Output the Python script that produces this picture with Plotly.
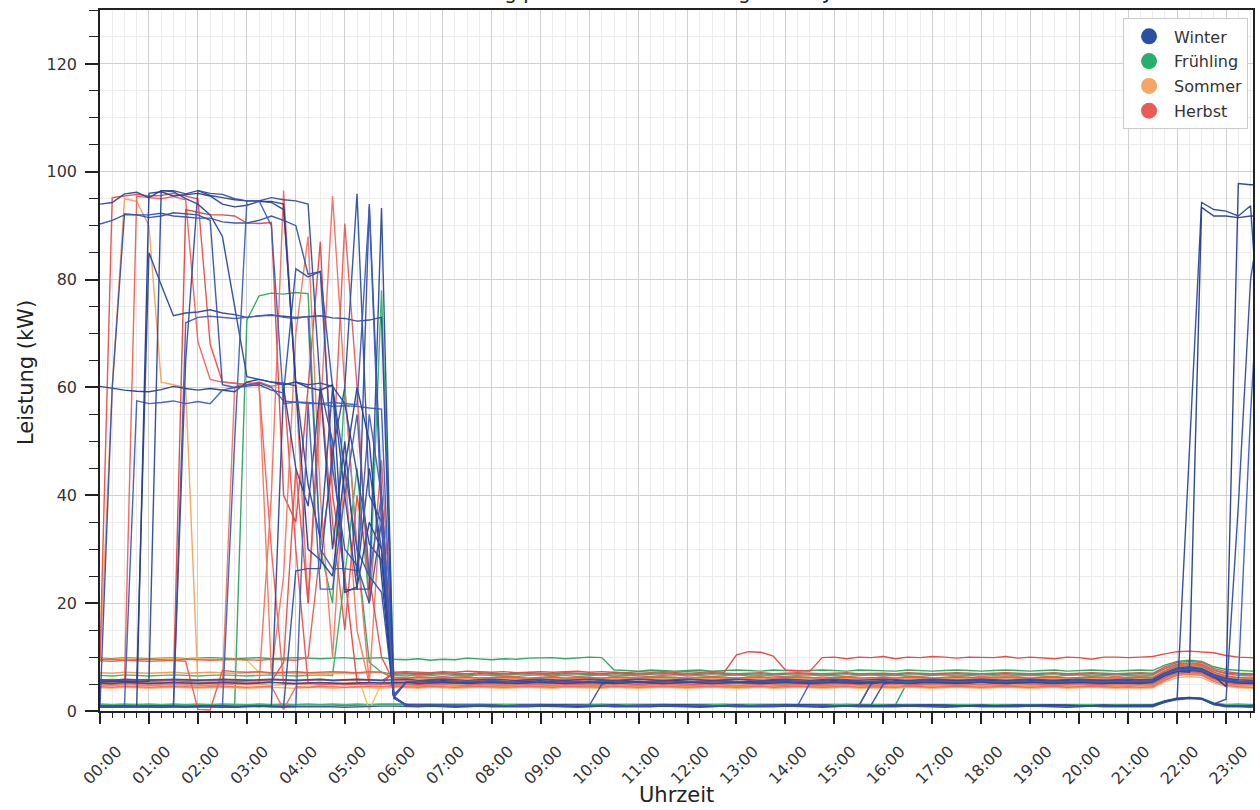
import sys
import plotly.graph_objects as go

# ---------------- categories / ticks ----------------
TIME_SLOTS_H = [i * 0.25 for i in range(96)]          # 15-minute slots, in hours
TICK_POS = list(range(24))
TICK_LABELS = ["00:00", "01:00", "02:00", "03:00", "04:00", "05:00", "06:00", "07:00",
               "08:00", "09:00", "10:00", "11:00", "12:00", "13:00", "14:00", "15:00",
               "16:00", "17:00", "18:00", "19:00", "20:00", "21:00", "22:00", "23:00"]
Y_TICKS = [0, 20, 40, 60, 80, 100, 120]

SEASONS = ["Winter", "Frühling", "Sommer", "Herbst"]
LEGEND_COLORS = ["#2a50a5", "#28af69", "#f5a564", "#eb5a55"]

# ---------------- Winter days (kW per 15 min) ----------------
W1 = [94.0, 94.3, 95.9, 96.2, 95.2, 96.5, 96.5, 95.9, 96.5, 95.6, 95.2, 94.8,
      94.6, 94.6, 94.3, 93.0, 61.0, 60.5, 60.8, 60.2, 57.0, 44.0, 31.0, 28.0,
      2.6, 1.1, 1.0, 0.9, 1.0, 1.1, 1.0, 0.9, 1.0, 1.0, 1.1, 1.0,
      0.9, 1.0, 1.0, 1.1, 1.0, 0.9, 1.0, 1.0, 1.1, 1.0, 0.9, 1.0,
      1.0, 1.1, 1.0, 0.9, 1.0, 1.0, 1.1, 1.0, 0.9, 1.0, 1.0, 1.1,
      1.0, 0.9, 1.0, 1.0, 1.1, 1.0, 0.9, 1.0, 1.0, 1.1, 1.0, 0.9,
      1.0, 1.0, 1.1, 1.0, 0.9, 1.0, 1.0, 1.1, 1.0, 0.9, 1.0, 1.0,
      1.0, 0.9, 1.0, 1.8, 2.3, 48.0, 94.3, 93.0, 92.7, 91.8, 93.7, 60.0]
W2 = [90.3, 91.0, 92.0, 92.0, 92.0, 92.3, 91.8, 91.6, 91.4, 91.4, 90.7, 90.5,
      90.5, 91.0, 91.8, 91.0, 90.0, 81.0, 81.5, 60.0, 45.0, 30.0, 25.0, 22.0,
      2.4, 1.2, 1.0, 1.1, 0.9, 1.0, 1.0, 1.1, 1.0, 0.9, 1.0, 1.1,
      1.0, 0.9, 1.0, 1.0, 1.1, 5.0, 5.4, 5.5, 5.3, 5.4, 5.5, 5.6,
      5.5, 5.4, 5.6, 5.5, 5.3, 5.4, 5.5, 5.6, 5.4, 5.5, 5.3, 5.4,
      5.5, 5.6, 5.4, 5.3, 5.5, 5.4, 5.6, 5.5, 5.4, 5.3, 5.5, 5.4,
      5.6, 5.5, 5.4, 5.5, 5.3, 5.4, 5.6, 5.5, 5.4, 5.5, 5.6, 5.4,
      5.5, 5.4, 5.5, 6.7, 7.7, 7.9, 7.7, 6.5, 5.8, 5.5, 5.4, 5.5]
W3 = [60.2, 59.8, 59.5, 59.3, 59.2, 59.6, 60.2, 59.8, 59.5, 59.8, 59.5, 59.2,
      61.0, 61.5, 61.0, 60.5, 61.0, 60.0, 59.5, 60.5, 22.0, 23.0, 35.0, 30.0,
      2.5, 1.0, 1.1, 1.0, 0.9, 1.0, 1.0, 1.1, 1.0, 0.9, 1.0, 1.0,
      1.1, 1.0, 0.9, 1.0, 1.0, 1.1, 1.0, 0.9, 1.0, 1.0, 1.1, 1.0,
      0.9, 1.0, 1.0, 1.1, 1.0, 0.9, 1.0, 1.0, 1.1, 1.0, 0.9, 1.0,
      1.0, 0.9, 1.0, 5.0, 5.5, 5.4, 5.6, 5.5, 5.4, 5.5, 5.6, 5.4,
      5.5, 5.4, 5.6, 5.5, 5.4, 5.3, 5.5, 5.6, 5.4, 5.5, 5.4, 5.5,
      5.5, 5.4, 5.5, 6.6, 7.4, 7.2, 93.4, 91.8, 91.8, 91.5, 91.8, 91.8]
W4 = [0.8, 0.8, 0.9, 57.5, 57.0, 57.2, 57.5, 57.0, 57.4, 57.0, 59.5, 60.0,
      60.5, 60.8, 60.0, 57.5, 57.2, 57.0, 57.0, 56.5, 56.6, 56.5, 56.2, 56.0,
      2.5, 1.1, 1.0, 1.0, 0.9, 1.0, 1.1, 1.0, 1.0, 0.9, 1.0, 1.0,
      1.0, 1.1, 1.0, 0.9, 1.0, 1.0, 1.1, 1.0, 0.9, 1.0, 1.0, 1.1,
      1.0, 1.0, 0.9, 1.0, 1.1, 1.0, 1.0, 0.9, 1.0, 1.0, 5.2, 5.5,
      5.4, 5.6, 5.5, 5.4, 5.3, 5.5, 5.6, 5.4, 5.5, 5.4, 5.6, 5.5,
      5.4, 5.5, 5.3, 5.4, 5.6, 5.5, 5.4, 5.5, 5.6, 5.4, 5.5, 5.3,
      5.4, 5.5, 5.4, 6.6, 7.5, 7.8, 7.6, 6.4, 5.7, 5.4, 5.5, 5.4]
W5 = [5.4, 5.5, 5.5, 5.5, 85.0, 79.0, 73.3, 73.8, 74.0, 74.4, 73.8, 73.5,
      73.0, 73.3, 73.4, 73.2, 73.0, 73.1, 73.3, 72.9, 72.8, 72.3, 72.5, 73.0,
      3.0, 5.3, 5.5, 5.6, 5.4, 5.5, 5.3, 5.4, 5.6, 5.5, 5.4, 5.5,
      5.6, 5.4, 5.5, 5.3, 5.5, 5.6, 5.4, 5.5, 5.5, 5.4, 5.6, 5.5,
      5.4, 5.5, 5.6, 5.4, 5.3, 5.5, 5.4, 5.6, 5.5, 5.4, 5.5, 5.6,
      5.4, 5.5, 5.3, 5.5, 5.6, 5.4, 5.5, 5.4, 5.6, 5.5, 5.3, 5.5,
      5.6, 5.4, 5.5, 5.4, 5.5, 5.6, 5.4, 5.3, 5.5, 5.6, 5.5, 5.4,
      5.6, 5.5, 5.6, 6.9, 7.6, 7.9, 7.5, 6.6, 5.8, 5.5, 5.4, 5.5]
W6 = [0.8, 0.9, 0.8, 0.8, 0.9, 0.8, 0.8, 72.0, 73.0, 73.2, 73.0, 72.8,
      73.0, 73.2, 73.5, 73.0, 72.8, 73.2, 30.0, 26.4, 26.4, 26.0, 55.0, 40.0,
      2.6, 1.0, 0.9, 1.0, 1.1, 1.0, 0.9, 1.0, 1.0, 1.1, 1.0, 0.9,
      1.0, 1.0, 1.1, 1.0, 0.9, 1.0, 1.0, 1.1, 1.0, 0.9, 1.0, 1.0,
      1.1, 1.0, 0.9, 1.0, 1.0, 1.1, 1.0, 0.9, 1.0, 1.0, 1.1, 1.0,
      0.9, 1.0, 1.0, 1.1, 1.0, 0.9, 1.0, 1.0, 1.1, 1.0, 0.9, 1.0,
      1.0, 1.1, 1.0, 0.9, 1.0, 1.0, 1.1, 1.0, 0.9, 1.0, 1.0, 1.1,
      1.0, 1.0, 0.9, 1.7, 2.2, 2.4, 2.3, 1.3, 0.9, 1.0, 0.9, 1.0]
W7 = [0.9, 0.8, 0.9, 0.8, 0.9, 0.8, 0.9, 0.8, 0.9, 0.8, 0.9, 0.8,
      0.9, 0.8, 0.9, 0.8, 26.0, 26.4, 26.4, 48.0, 60.0, 95.9, 40.0, 35.0,
      2.6, 1.0, 1.0, 1.1, 1.0, 0.9, 1.0, 1.0, 1.1, 1.0, 0.9, 1.0,
      1.0, 1.1, 1.0, 0.9, 1.0, 1.0, 1.1, 1.0, 0.9, 1.0, 1.0, 1.1,
      1.0, 0.9, 1.0, 1.0, 1.1, 1.0, 0.9, 1.0, 1.0, 1.1, 1.0, 0.9,
      1.0, 1.0, 0.9, 1.1, 5.0, 5.5, 5.4, 5.6, 5.5, 5.4, 5.5, 5.6,
      5.5, 5.4, 5.5, 5.6, 5.4, 5.5, 5.3, 5.4, 5.5, 5.6, 5.4, 5.5,
      5.4, 5.5, 5.5, 6.8, 7.6, 7.8, 7.6, 6.5, 5.7, 5.5, 5.4, 5.5]
W8 = [0.8, 0.8, 0.8, 0.9, 0.8, 0.8, 0.9, 65.0, 96.5, 96.0, 95.8, 95.0,
      94.6, 94.6, 95.2, 94.8, 94.6, 94.0, 60.0, 50.0, 22.5, 22.6, 94.0, 40.0,
      2.5, 1.1, 1.0, 0.9, 1.0, 1.0, 1.1, 1.0, 0.9, 1.0, 1.0, 1.1,
      1.0, 0.9, 1.0, 1.0, 1.1, 1.0, 0.9, 1.0, 1.0, 1.1, 1.0, 0.9,
      1.0, 1.0, 1.1, 1.0, 0.9, 1.0, 1.0, 1.1, 1.0, 0.9, 1.0, 1.0,
      1.1, 1.0, 0.9, 1.0, 1.0, 1.1, 1.0, 0.9, 1.0, 1.0, 1.1, 1.0,
      0.9, 1.0, 1.0, 1.1, 1.0, 0.9, 1.0, 1.0, 1.1, 1.0, 0.9, 1.0,
      1.0, 0.9, 1.0, 1.8, 2.3, 2.4, 2.3, 1.3, 2.2, 38.0, 80.0, 95.0]
W9 = [5.5, 5.6, 5.5, 5.4, 5.5, 96.5, 96.3, 95.0, 94.0, 92.0, 88.0, 75.0,
      62.0, 61.5, 61.0, 60.8, 60.3, 42.0, 32.0, 60.0, 40.0, 22.6, 22.6, 93.3,
      2.4, 1.2, 1.0, 1.0, 1.1, 1.0, 0.9, 1.0, 1.0, 1.1, 1.0, 0.9,
      1.0, 1.0, 1.1, 1.0, 0.9, 1.0, 1.0, 1.1, 1.0, 0.9, 1.0, 1.0,
      1.1, 1.0, 0.9, 1.0, 1.0, 1.1, 1.0, 0.9, 1.0, 1.0, 1.1, 1.0,
      0.9, 1.0, 1.0, 1.1, 1.0, 0.9, 1.0, 1.0, 1.1, 1.0, 0.9, 1.0,
      1.0, 1.1, 1.0, 0.9, 1.0, 1.0, 1.1, 1.0, 0.9, 1.0, 1.0, 1.1,
      1.0, 1.0, 1.1, 1.8, 2.3, 2.5, 2.3, 1.4, 1.0, 0.9, 1.0, 1.0]
W10 = [0.8, 60.0, 92.2, 92.0, 91.5, 91.8, 92.4, 92.2, 92.0, 91.0, 60.5, 60.0,
       60.2, 60.5, 59.5, 59.0, 82.0, 80.5, 81.5, 45.0, 30.0, 27.0, 20.0, 35.0,
       2.6, 1.0, 1.1, 1.0, 0.9, 1.0, 1.0, 1.1, 1.0, 0.9, 1.0, 1.0,
       1.1, 1.0, 0.9, 1.0, 1.0, 1.1, 1.0, 0.9, 1.0, 1.0, 1.1, 1.0,
       0.9, 1.0, 1.0, 1.1, 1.0, 0.9, 1.0, 1.0, 1.1, 1.0, 0.9, 1.0,
       1.0, 1.1, 1.0, 0.9, 1.0, 1.0, 1.1, 1.0, 0.9, 1.0, 1.0, 1.1,
       1.0, 0.9, 1.0, 1.0, 1.1, 1.0, 0.9, 1.0, 1.0, 1.1, 1.0, 0.9,
       1.0, 1.0, 0.9, 1.7, 2.2, 2.4, 2.2, 1.2, 0.9, 1.0, 1.0, 0.9]
W11 = [0.8, 0.8, 0.8, 0.8, 96.0, 96.3, 95.5, 95.8, 96.0, 95.5, 94.0, 93.5,
       93.8, 94.5, 94.5, 94.0, 60.0, 30.0, 28.0, 25.0, 45.0, 60.0, 50.0, 25.0,
       2.5, 5.3, 5.5, 5.4, 5.6, 5.5, 5.4, 5.5, 5.3, 5.4, 5.6, 5.5,
       5.4, 5.5, 5.6, 5.4, 5.5, 5.3, 5.5, 5.6, 5.4, 5.5, 5.4, 5.6,
       5.5, 5.4, 5.5, 5.6, 5.4, 5.5, 5.3, 5.4, 5.6, 5.5, 5.4, 5.5,
       5.6, 5.4, 5.5, 5.5, 5.4, 5.6, 5.5, 5.3, 5.4, 5.5, 5.6, 5.4,
       5.5, 5.6, 5.4, 5.5, 5.5, 5.4, 5.6, 5.5, 5.3, 5.4, 5.5, 5.6,
       5.5, 5.4, 5.5, 6.7, 7.7, 7.9, 7.7, 6.5, 4.5, 97.8, 97.6, 97.5]
W12 = [0.8, 0.9, 0.8, 0.8, 0.8, 0.9, 0.8, 0.8, 0.9, 0.8, 0.8, 50.0,
       94.6, 94.6, 90.0, 57.0, 57.3, 57.2, 57.0, 57.2, 57.0, 56.8, 93.5, 35.0,
       2.6, 5.4, 5.5, 5.6, 5.4, 5.5, 5.5, 5.4, 5.6, 5.5, 5.4, 5.3,
       5.5, 5.6, 5.4, 5.5, 5.4, 5.6, 5.5, 5.4, 5.3, 5.5, 5.6, 5.4,
       5.5, 5.5, 5.4, 5.6, 5.5, 5.3, 5.4, 5.5, 5.6, 5.4, 5.5, 5.5,
       5.4, 5.6, 5.5, 5.4, 5.5, 5.3, 5.5, 5.6, 5.4, 5.5, 5.5, 5.4,
       5.6, 5.5, 5.4, 5.5, 5.3, 5.5, 5.6, 5.4, 5.5, 5.5, 5.4, 5.6,
       5.5, 5.6, 5.5, 6.8, 7.6, 7.8, 7.6, 6.6, 5.9, 5.8, 55.0, 95.0]
W13 = [0.9, 1.0, 0.9, 0.8, 0.9, 1.0, 0.9, 0.8, 0.9, 1.0, 0.9, 0.8,
       0.9, 1.0, 0.9, 60.0, 45.0, 38.0, 60.0, 30.0, 50.0, 25.0, 45.0, 30.0,
       2.7, 1.1, 1.0, 1.0, 1.1, 1.0, 0.9, 1.0, 1.1, 1.0, 1.0, 0.9,
       1.0, 1.1, 1.0, 1.0, 0.9, 1.0, 1.1, 1.0, 1.0, 0.9, 1.0, 1.1,
       1.0, 1.0, 0.9, 1.0, 1.1, 1.0, 1.0, 0.9, 1.0, 1.1, 1.0, 1.0,
       0.9, 1.0, 1.1, 1.0, 1.0, 0.9, 1.0, 1.1, 1.0, 1.0, 0.9, 1.0,
       1.1, 1.0, 1.0, 0.9, 1.0, 1.1, 1.0, 1.0, 0.9, 1.0, 1.1, 1.0,
       1.0, 1.1, 1.0, 1.7, 2.3, 2.4, 2.3, 1.3, 1.0, 0.9, 1.0, 1.1]
W14 = [0.8, 0.9, 0.8, 0.7, 0.8, 0.9, 0.8, 0.7, 0.8, 0.9, 0.8, 0.7,
       0.8, 0.9, 0.8, 0.9, 0.8, 57.0, 22.6, 22.6, 40.0, 55.0, 25.0, 40.0,
       2.5, 1.0, 1.1, 0.9, 1.0, 1.0, 1.1, 1.0, 0.9, 1.0, 1.0, 1.1,
       1.0, 0.9, 1.0, 1.1, 1.0, 1.0, 0.9, 1.0, 1.1, 1.0, 1.0, 0.9,
       1.0, 1.1, 1.0, 1.0, 0.9, 1.0, 1.1, 1.0, 1.0, 0.9, 1.0, 1.1,
       1.0, 1.0, 0.9, 5.1, 5.4, 5.5, 5.3, 5.4, 5.5, 5.6, 5.4, 5.5,
       5.3, 5.4, 5.5, 5.6, 5.4, 5.5, 5.3, 5.4, 5.5, 5.6, 5.4, 5.5,
       5.4, 5.5, 5.4, 6.7, 7.5, 7.7, 7.5, 6.4, 5.7, 5.4, 5.5, 5.4]
WB1 = [5.8, 5.7, 5.9, 5.8, 5.7, 5.8, 5.9, 5.8, 5.7, 5.8, 5.9, 5.8,
       5.7, 5.8, 5.9, 5.8, 5.7, 5.8, 5.9, 5.7, 5.8, 5.9, 5.8, 5.7,
       5.8, 5.9, 5.7, 5.8, 5.9, 5.8, 5.7, 5.8, 5.9, 5.8, 5.7, 5.8,
       5.9, 5.8, 5.7, 5.8, 5.9, 5.8, 5.7, 5.8, 5.9, 5.8, 5.7, 5.8,
       5.9, 5.8, 5.7, 5.8, 5.9, 5.8, 5.7, 5.8, 5.9, 5.8, 5.7, 5.8,
       5.9, 5.8, 5.7, 5.8, 5.9, 5.8, 5.7, 5.8, 5.9, 5.8, 5.7, 5.8,
       5.9, 5.8, 5.7, 5.8, 5.9, 5.8, 5.7, 5.8, 5.9, 5.8, 5.7, 5.8,
       5.9, 5.8, 5.9, 7.1, 8.0, 8.2, 7.9, 6.8, 6.1, 5.8, 5.7, 5.8]
WB2 = [0.8, 0.7, 0.8, 0.9, 0.8, 0.7, 0.8, 0.8, 0.9, 0.8, 0.7, 0.8,
       0.8, 0.9, 0.8, 0.7, 0.8, 0.8, 0.9, 0.8, 0.7, 0.8, 0.8, 0.9,
       0.9, 0.8, 0.8, 0.9, 0.8, 0.7, 0.8, 0.9, 0.8, 0.8, 0.7, 0.8,
       0.9, 0.8, 0.8, 0.7, 0.8, 0.9, 0.8, 0.8, 0.7, 0.8, 0.9, 0.8,
       0.8, 0.7, 0.8, 0.9, 0.8, 0.8, 0.7, 0.8, 0.9, 0.8, 0.8, 0.7,
       0.8, 0.9, 0.8, 0.8, 0.7, 0.8, 0.9, 0.8, 0.8, 0.7, 0.8, 0.9,
       0.8, 0.8, 0.7, 0.8, 0.9, 0.8, 0.8, 0.7, 0.8, 0.9, 0.8, 0.8,
       0.8, 0.7, 0.8, 1.6, 2.1, 2.3, 2.2, 1.2, 0.8, 0.8, 0.7, 0.8]
WB3 = [5.2, 5.1, 5.3, 5.2, 5.1, 5.2, 5.3, 5.2, 5.1, 5.2, 5.3, 5.2,
       5.1, 5.2, 5.3, 5.2, 5.1, 5.2, 5.3, 5.2, 5.1, 5.2, 5.3, 5.2,
       5.2, 5.3, 5.1, 5.2, 5.3, 5.2, 5.1, 5.2, 5.3, 5.2, 5.1, 5.2,
       5.3, 5.2, 5.1, 5.2, 5.3, 5.2, 5.1, 5.2, 5.3, 5.2, 5.1, 5.2,
       5.3, 5.2, 5.1, 5.2, 5.3, 5.2, 5.1, 5.2, 5.3, 5.2, 5.1, 5.2,
       5.3, 5.2, 5.1, 5.2, 5.3, 5.2, 5.1, 5.2, 5.3, 5.2, 5.1, 5.2,
       5.3, 5.2, 5.1, 5.2, 5.3, 5.2, 5.1, 5.2, 5.3, 5.2, 5.1, 5.2,
       5.2, 5.1, 5.3, 6.5, 7.3, 7.5, 7.3, 6.2, 5.5, 5.2, 5.1, 5.2]

# ---------------- Herbst days ----------------
H1 = [9.8, 95.2, 95.5, 95.8, 95.5, 95.6, 96.0, 95.5, 95.0, 68.0, 61.0, 60.8,
      60.5, 61.0, 60.2, 60.8, 30.0, 5.2, 5.0, 5.1, 4.9, 5.0, 5.1, 5.0,
      5.1, 5.0, 4.9, 5.1, 5.0, 5.2, 5.0, 4.9, 5.1, 5.0, 5.1, 4.9,
      5.0, 5.1, 5.0, 4.9, 5.1, 5.0, 5.2, 5.0, 4.9, 5.1, 5.0, 5.1,
      5.0, 4.9, 5.1, 5.0, 5.2, 5.0, 4.9, 5.1, 5.0, 5.1, 4.9, 5.0,
      5.1, 5.0, 4.9, 5.1, 5.0, 5.2, 5.0, 4.9, 5.1, 5.0, 5.1, 5.0,
      4.9, 5.1, 5.0, 5.2, 5.0, 4.9, 5.1, 5.0, 5.1, 4.9, 5.0, 5.1,
      5.0, 5.1, 5.0, 6.2, 7.1, 7.3, 7.1, 6.0, 5.3, 5.0, 5.1, 5.0]
H2 = [5.0, 5.1, 5.0, 95.5, 95.2, 95.0, 95.4, 94.8, 68.5, 61.5, 61.0, 60.8,
      60.5, 60.3, 30.0, 5.1, 5.0, 5.2, 5.0, 4.9, 5.0, 5.1, 5.0, 5.2,
      5.3, 5.2, 5.4, 5.3, 5.2, 5.3, 5.1, 5.3, 5.2, 5.4, 5.3, 5.2,
      5.3, 5.2, 5.4, 5.3, 5.1, 5.2, 5.3, 5.4, 5.2, 5.3, 5.2, 5.3,
      5.4, 5.2, 5.3, 5.2, 5.3, 5.1, 5.3, 5.2, 5.4, 5.3, 5.2, 5.3,
      5.2, 5.3, 5.4, 5.2, 5.3, 5.2, 5.1, 5.3, 5.2, 5.4, 5.3, 5.2,
      5.3, 5.2, 5.3, 5.4, 5.2, 5.3, 5.1, 5.2, 5.3, 5.2, 5.4, 5.3,
      5.2, 5.3, 5.2, 6.6, 7.6, 7.8, 7.5, 6.3, 5.6, 5.3, 5.2, 5.3]
H3 = [5.1, 5.0, 5.2, 5.0, 5.1, 5.0, 5.1, 93.0, 92.5, 92.0, 92.0, 91.8,
      90.5, 90.4, 90.6, 40.0, 35.0, 60.0, 87.0, 40.0, 25.0, 5.3, 5.2, 5.0,
      7.2, 7.3, 7.2, 7.1, 7.3, 7.2, 7.4, 7.3, 7.2, 7.3, 7.1, 7.2,
      7.3, 7.2, 7.3, 7.4, 7.2, 7.3, 7.2, 7.1, 7.3, 7.2, 7.3, 7.2,
      7.3, 7.2, 7.3, 7.2, 10.4, 11.0, 10.9, 10.2, 7.6, 7.5, 7.4, 9.9,
      10.0, 9.7, 10.0, 9.9, 10.1, 9.7, 10.0, 9.9, 10.1, 10.0, 9.8, 10.0,
      10.0, 9.9, 10.1, 9.8, 10.0, 9.9, 9.7, 10.0, 9.9, 9.6, 10.0, 10.0,
      9.9, 10.0, 10.1, 10.6, 11.0, 11.1, 11.0, 10.8, 10.3, 10.0, 9.9, 9.8]
H4 = [5.2, 5.0, 5.1, 5.2, 5.0, 5.1, 5.2, 5.0, 5.1, 5.2, 5.0, 5.1,
      5.0, 5.2, 40.0, 96.5, 60.0, 20.0, 55.0, 95.5, 60.0, 30.0, 5.2, 5.1,
      4.8, 4.9, 4.7, 4.8, 4.9, 4.8, 4.7, 4.9, 4.8, 4.7, 4.8, 4.9,
      4.8, 4.7, 4.9, 4.8, 4.8, 4.7, 4.9, 4.8, 4.7, 4.8, 4.9, 4.8,
      4.7, 4.8, 4.9, 4.8, 4.7, 4.8, 4.9, 4.8, 4.7, 4.9, 4.8, 4.7,
      4.8, 4.9, 4.8, 4.7, 4.8, 4.9, 4.7, 4.8, 4.9, 4.8, 4.7, 4.8,
      4.9, 4.8, 4.7, 4.8, 4.9, 4.8, 4.7, 4.8, 4.9, 4.8, 4.7, 4.8,
      4.8, 4.9, 4.8, 6.0, 6.9, 7.1, 6.9, 5.8, 5.1, 4.8, 4.9, 4.8]
H5 = [9.5, 9.6, 9.4, 9.5, 9.6, 9.5, 9.4, 9.6, 9.5, 9.4, 9.5, 9.6,
      9.5, 9.4, 9.6, 9.5, 9.4, 10.0, 30.0, 45.0, 90.4, 60.0, 20.0, 46.5,
      6.6, 6.5, 6.7, 6.6, 6.4, 6.6, 6.5, 6.7, 6.6, 6.5, 6.4, 6.6,
      6.7, 6.5, 6.6, 6.4, 6.6, 6.7, 6.5, 6.6, 6.5, 6.4, 6.6, 6.7,
      6.5, 6.6, 6.4, 6.6, 6.7, 6.5, 6.6, 6.5, 6.4, 6.6, 6.7, 6.5,
      6.6, 6.4, 6.6, 6.7, 6.5, 6.6, 6.5, 6.4, 6.6, 6.7, 6.5, 6.6,
      6.4, 6.6, 6.7, 6.5, 6.6, 6.5, 6.4, 6.6, 6.7, 6.5, 6.6, 6.4,
      6.6, 6.5, 6.6, 7.8, 8.6, 8.8, 8.6, 7.5, 6.9, 6.6, 6.5, 6.6]
H6 = [4.8, 4.7, 4.9, 4.8, 4.7, 4.8, 4.9, 4.8, 4.7, 4.8, 4.9, 60.0,
      61.0, 60.5, 7.0, 25.0, 70.0, 88.0, 40.0, 10.0, 45.0, 15.0, 5.0, 40.0,
      5.6, 5.7, 5.5, 5.6, 5.7, 5.6, 5.5, 5.7, 5.6, 5.5, 5.6, 5.7,
      5.6, 5.5, 5.7, 5.6, 5.6, 5.5, 5.7, 5.6, 5.5, 5.6, 5.7, 5.6,
      5.5, 5.6, 5.7, 5.6, 5.5, 5.6, 5.7, 5.5, 5.6, 5.7, 5.6, 5.5,
      5.6, 5.7, 5.5, 5.6, 5.6, 5.5, 5.7, 5.6, 5.5, 5.6, 5.7, 5.6,
      5.5, 5.6, 5.7, 5.6, 5.5, 5.6, 5.7, 5.5, 5.6, 5.7, 5.6, 5.5,
      5.6, 5.7, 5.6, 6.9, 7.8, 8.0, 7.8, 6.7, 6.0, 5.7, 5.6, 5.7]
H7 = [9.3, 9.2, 9.4, 9.3, 9.2, 9.3, 9.4, 9.2, 0.3, 0.2, 7.5, 7.3,
      7.2, 7.3, 7.1, 7.2, 7.3, 7.1, 7.2, 7.3, 7.2, 7.1, 7.3, 7.2,
      6.2, 6.1, 6.3, 6.2, 6.1, 6.2, 6.3, 6.1, 6.2, 6.3, 6.2, 6.1,
      6.2, 6.3, 6.1, 6.2, 6.2, 6.1, 6.3, 6.2, 6.1, 6.2, 6.3, 6.2,
      6.1, 6.2, 6.3, 6.2, 6.1, 6.2, 6.3, 6.1, 6.2, 6.3, 6.2, 6.1,
      6.2, 6.3, 6.1, 6.2, 6.2, 6.1, 6.3, 6.2, 6.1, 6.2, 6.3, 6.2,
      6.1, 6.2, 6.3, 6.2, 6.1, 6.2, 6.3, 6.1, 6.2, 6.3, 6.2, 6.1,
      6.2, 6.3, 6.2, 7.5, 8.4, 8.6, 8.4, 7.2, 6.5, 6.2, 6.1, 6.2]
H8 = [4.5, 4.4, 4.6, 4.5, 4.4, 4.5, 4.6, 4.5, 4.4, 4.5, 4.6, 4.5,
      4.4, 4.5, 4.6, 0.3, 4.5, 4.4, 4.6, 4.5, 4.4, 4.5, 4.6, 4.5,
      4.6, 4.5, 4.4, 4.6, 4.5, 4.4, 4.5, 4.6, 4.5, 4.4, 4.5, 4.6,
      4.5, 4.4, 4.6, 4.5, 4.5, 4.4, 4.6, 4.5, 4.4, 4.5, 4.6, 4.5,
      4.4, 4.5, 4.6, 4.5, 4.4, 4.5, 4.6, 4.4, 4.5, 4.6, 4.5, 4.4,
      4.5, 4.6, 4.4, 4.5, 4.5, 4.4, 4.6, 4.5, 4.4, 4.5, 4.6, 4.5,
      4.4, 4.5, 4.6, 4.5, 4.4, 4.5, 4.6, 4.4, 4.5, 4.6, 4.5, 4.4,
      4.5, 4.4, 4.5, 5.7, 6.6, 6.8, 6.6, 5.5, 4.8, 4.5, 4.4, 4.5]
H9 = [5.7, 5.8, 5.6, 5.7, 5.8, 5.7, 5.6, 5.8, 5.7, 5.6, 5.7, 5.8,
      5.7, 5.6, 5.8, 5.7, 5.6, 5.7, 5.8, 5.6, 5.7, 5.8, 5.7, 5.6,
      7.0, 7.1, 6.9, 7.0, 7.1, 7.0, 6.9, 7.1, 7.0, 6.9, 7.0, 7.1,
      7.0, 6.9, 7.1, 7.0, 7.0, 6.9, 7.1, 7.0, 6.9, 7.0, 7.1, 7.0,
      6.9, 7.0, 7.1, 7.0, 6.9, 7.0, 7.1, 6.9, 7.0, 7.1, 7.0, 6.9,
      7.0, 7.1, 6.9, 7.0, 7.0, 6.9, 7.1, 7.0, 6.9, 7.0, 7.1, 7.0,
      6.9, 7.0, 7.1, 7.0, 6.9, 7.0, 7.1, 6.9, 7.0, 7.1, 7.0, 6.9,
      7.0, 7.1, 7.0, 8.2, 9.0, 9.2, 9.0, 7.9, 7.3, 7.0, 6.9, 7.0]
H10 = [5.4, 5.5, 5.3, 5.4, 5.5, 5.4, 5.3, 5.5, 5.4, 5.3, 5.4, 5.5,
       5.4, 5.3, 5.5, 9.0, 45.0, 20.0, 60.0, 35.0, 15.0, 40.0, 25.0, 10.0,
       5.4, 5.3, 5.5, 5.4, 5.3, 5.4, 5.5, 5.3, 5.4, 5.5, 5.4, 5.3,
       5.4, 5.5, 5.3, 5.4, 5.4, 5.3, 5.5, 5.4, 5.3, 5.4, 5.5, 5.4,
       5.3, 5.4, 5.5, 5.4, 5.3, 5.4, 5.5, 5.3, 5.4, 5.5, 5.4, 5.3,
       5.4, 5.5, 5.3, 5.4, 5.4, 5.3, 5.5, 5.4, 5.3, 5.4, 5.5, 5.4,
       5.3, 5.4, 5.5, 5.4, 5.3, 5.4, 5.5, 5.3, 5.4, 5.5, 5.4, 5.3,
       5.4, 5.5, 5.4, 6.6, 7.5, 7.7, 7.5, 6.4, 5.7, 5.4, 5.3, 5.4]

# ---------------- Sommer days ----------------
S1 = [9.3, 60.0, 95.0, 94.5, 90.0, 61.0, 60.5, 60.0, 5.0, 4.8, 4.9, 5.0,
      4.9, 5.0, 4.8, 4.9, 5.0, 4.9, 4.8, 5.0, 4.9, 5.0, 4.8, 4.9,
      5.0, 4.9, 5.1, 5.0, 4.9, 5.0, 5.1, 4.9, 5.0, 5.1, 5.0, 4.9,
      5.0, 5.1, 4.9, 5.0, 5.0, 4.9, 5.1, 5.0, 4.9, 5.0, 5.1, 5.0,
      4.9, 5.0, 5.1, 5.0, 4.9, 5.0, 5.1, 4.9, 5.0, 5.1, 5.0, 4.9,
      5.0, 5.1, 4.9, 5.0, 5.0, 4.9, 5.1, 5.0, 4.9, 5.0, 5.1, 5.0,
      4.9, 5.0, 5.1, 5.0, 4.9, 5.0, 5.1, 4.9, 5.0, 5.1, 5.0, 4.9,
      5.0, 4.9, 5.0, 6.2, 7.0, 7.2, 7.0, 5.9, 5.3, 5.0, 4.9, 5.0]
S2 = [9.7, 9.6, 9.8, 9.7, 9.6, 9.7, 9.8, 9.6, 9.7, 9.6, 9.5, 9.6,
      9.4, 7.2, 7.0, 7.1, 6.9, 7.0, 6.8, 7.0, 6.9, 6.9, 0.2, 5.1,
      4.6, 4.7, 4.5, 4.6, 4.7, 4.6, 4.5, 4.7, 4.6, 4.5, 4.6, 4.7,
      4.6, 4.5, 4.7, 4.6, 4.6, 4.5, 4.7, 4.6, 4.5, 4.6, 4.7, 4.6,
      4.5, 4.6, 4.7, 4.6, 4.5, 4.6, 4.7, 4.5, 4.6, 4.7, 4.6, 4.5,
      4.6, 4.7, 4.5, 4.6, 4.6, 4.5, 4.7, 4.6, 4.5, 4.6, 4.7, 4.6,
      4.5, 4.6, 4.7, 4.6, 4.5, 4.6, 4.7, 4.5, 4.6, 4.7, 4.6, 4.5,
      4.6, 4.7, 4.6, 5.8, 6.7, 6.9, 6.7, 5.6, 4.9, 4.6, 4.7, 4.6]
S3 = [4.3, 4.2, 4.4, 4.3, 4.2, 4.3, 4.4, 4.3, 4.2, 4.3, 4.4, 4.3,
      4.2, 4.3, 4.4, 4.3, 4.2, 4.3, 4.4, 4.2, 4.3, 4.4, 4.3, 4.2,
      4.4, 4.3, 4.2, 4.4, 4.3, 4.2, 4.3, 4.4, 4.3, 4.2, 4.3, 4.4,
      4.3, 4.2, 4.4, 4.3, 4.3, 4.2, 4.4, 4.3, 4.2, 4.3, 4.4, 4.3,
      4.2, 4.3, 4.4, 4.3, 4.2, 4.3, 4.4, 4.2, 4.3, 4.4, 4.3, 4.2,
      4.3, 4.4, 4.2, 4.3, 4.3, 4.2, 4.4, 4.3, 4.2, 4.3, 4.4, 4.3,
      4.2, 4.3, 4.4, 4.3, 4.2, 4.3, 4.4, 4.2, 4.3, 4.4, 4.3, 4.2,
      4.3, 4.2, 4.3, 5.4, 6.2, 6.4, 6.2, 5.2, 4.6, 4.3, 4.2, 4.3]
S4 = [7.1, 7.0, 7.2, 7.1, 7.0, 7.1, 7.2, 7.0, 7.1, 7.2, 7.1, 7.0,
      7.1, 7.2, 7.0, 7.1, 7.2, 7.1, 7.0, 7.1, 7.2, 7.0, 7.1, 7.2,
      6.0, 5.9, 6.1, 6.0, 5.9, 6.0, 6.1, 5.9, 6.0, 6.1, 6.0, 5.9,
      6.0, 6.1, 5.9, 6.0, 6.0, 5.9, 6.1, 6.0, 5.9, 6.0, 6.1, 6.0,
      5.9, 6.0, 6.1, 6.0, 5.9, 6.0, 6.1, 5.9, 6.0, 6.1, 6.0, 5.9,
      6.0, 6.1, 5.9, 6.0, 6.0, 5.9, 6.1, 6.0, 5.9, 6.0, 6.1, 6.0,
      5.9, 6.0, 6.1, 6.0, 5.9, 6.0, 6.1, 5.9, 6.0, 6.1, 6.0, 5.9,
      6.0, 6.1, 6.0, 7.2, 8.1, 8.3, 8.1, 7.0, 6.3, 6.0, 5.9, 6.0]
S5 = [5.2, 5.3, 5.1, 5.2, 5.3, 5.2, 5.1, 5.3, 5.2, 5.1, 5.2, 5.3,
      5.2, 5.1, 5.3, 5.2, 5.1, 5.2, 5.3, 5.1, 5.2, 5.3, 5.2, 5.1,
      4.9, 5.0, 4.8, 4.9, 5.0, 4.9, 4.8, 5.0, 4.9, 4.8, 4.9, 5.0,
      4.9, 4.8, 5.0, 4.9, 4.9, 4.8, 5.0, 4.9, 4.8, 4.9, 5.0, 4.9,
      4.8, 4.9, 5.0, 4.9, 4.8, 4.9, 5.0, 4.8, 4.9, 5.0, 4.9, 4.8,
      4.9, 5.0, 4.8, 4.9, 4.9, 4.8, 5.0, 4.9, 4.8, 4.9, 5.0, 4.9,
      4.8, 4.9, 5.0, 4.9, 4.8, 4.9, 5.0, 4.8, 4.9, 5.0, 4.9, 4.8,
      4.9, 5.0, 4.9, 6.1, 7.0, 7.2, 7.0, 5.9, 5.2, 4.9, 4.8, 4.9]
S6 = [5.8, 5.9, 5.7, 5.8, 5.9, 5.8, 5.7, 5.9, 5.8, 5.7, 5.8, 5.9,
      5.8, 5.7, 5.9, 5.8, 5.7, 5.8, 5.9, 5.7, 5.8, 5.9, 5.8, 5.7,
      5.3, 5.4, 5.2, 5.3, 5.4, 5.3, 5.2, 5.4, 5.3, 5.2, 5.3, 5.4,
      5.3, 5.2, 5.4, 5.3, 5.3, 5.2, 5.4, 5.3, 5.2, 5.3, 5.4, 5.3,
      5.2, 5.3, 5.4, 5.3, 5.2, 5.3, 5.4, 5.2, 5.3, 5.4, 5.3, 5.2,
      5.3, 5.4, 5.2, 5.3, 5.3, 5.2, 5.4, 5.3, 5.2, 5.3, 5.4, 5.3,
      5.2, 5.3, 5.4, 5.3, 5.2, 5.3, 5.4, 5.2, 5.3, 5.4, 5.3, 5.2,
      5.3, 5.4, 5.3, 6.5, 7.4, 7.6, 7.4, 6.3, 5.6, 5.3, 5.2, 5.3]

# ---------------- Frühling days ----------------
F1 = [1.0, 1.0, 0.9, 1.0, 1.1, 1.0, 0.9, 1.0, 1.0, 1.1, 1.0, 1.0,
      72.5, 77.0, 77.5, 77.3, 77.6, 77.4, 30.0, 20.0, 60.0, 30.0, 9.0, 7.2,
      6.8, 6.9, 6.7, 6.8, 6.9, 6.8, 6.7, 6.9, 6.8, 6.7, 6.8, 6.9,
      6.8, 6.7, 6.9, 6.8, 6.8, 6.7, 6.9, 6.8, 6.7, 6.8, 6.9, 6.8,
      6.7, 6.8, 6.9, 6.8, 6.7, 6.8, 6.9, 6.7, 6.8, 6.9, 6.8, 6.7,
      6.8, 6.9, 6.7, 6.8, 6.8, 6.7, 6.9, 6.8, 6.7, 6.8, 6.9, 6.8,
      6.7, 6.8, 6.9, 6.8, 6.7, 6.8, 6.9, 6.7, 6.8, 6.9, 6.8, 6.7,
      6.8, 6.9, 6.8, 7.9, 8.7, 8.9, 8.7, 7.6, 7.0, 6.8, 6.7, 6.8]
F2 = [6.6, 6.5, 6.7, 6.6, 6.5, 6.6, 6.7, 6.6, 6.5, 6.6, 6.7, 6.6,
      6.5, 6.6, 6.7, 6.6, 6.5, 6.6, 6.7, 6.6, 25.0, 45.0, 20.0, 78.0,
      6.2, 6.1, 6.3, 6.2, 6.1, 6.2, 6.3, 6.1, 6.2, 6.3, 6.2, 6.1,
      6.2, 6.3, 6.1, 6.2, 6.2, 6.1, 6.3, 6.2, 6.1, 6.2, 6.3, 6.2,
      6.1, 6.2, 6.3, 6.2, 6.1, 6.2, 6.3, 6.1, 6.2, 6.3, 6.2, 6.1,
      6.2, 6.3, 6.1, 6.2, 6.2, 6.1, 6.3, 6.2, 6.1, 6.2, 6.3, 6.2,
      6.1, 6.2, 6.3, 6.2, 6.1, 6.2, 6.3, 6.1, 6.2, 6.3, 6.2, 6.1,
      6.2, 6.3, 6.2, 7.4, 8.2, 8.4, 8.2, 7.1, 6.5, 6.2, 6.1, 6.2]
F3 = [1.1, 1.0, 1.1, 1.2, 1.1, 1.0, 1.1, 1.1, 1.2, 1.1, 1.0, 1.1,
      1.1, 1.2, 1.1, 1.0, 1.1, 1.1, 1.2, 1.1, 1.0, 1.1, 1.1, 1.2,
      1.2, 1.1, 1.1, 1.2, 1.1, 1.0, 1.1, 1.2, 1.1, 1.1, 1.0, 1.1,
      1.2, 1.1, 1.1, 1.0, 1.1, 1.2, 1.1, 1.1, 1.0, 1.1, 1.2, 1.1,
      1.1, 1.0, 1.1, 1.2, 1.1, 1.1, 1.0, 1.1, 1.2, 1.1, 1.1, 1.0,
      1.1, 1.2, 1.1, 1.1, 1.0, 1.2, 5.5, 5.7, 5.6, 5.8, 5.7, 5.6,
      5.7, 5.8, 5.6, 5.7, 5.8, 5.6, 5.7, 5.8, 5.6, 5.7, 5.8, 5.7,
      5.6, 5.7, 5.8, 6.9, 7.8, 8.0, 7.8, 6.7, 6.0, 5.7, 5.6, 5.7]
F4 = [1.3, 1.2, 1.3, 1.2, 1.3, 1.2, 1.3, 1.2, 1.3, 1.2, 1.3, 1.2,
      1.2, 1.3, 1.2, 1.3, 1.2, 1.3, 1.2, 1.3, 1.2, 1.3, 1.2, 1.3,
      1.3, 1.2, 1.3, 1.2, 1.3, 1.2, 1.3, 1.2, 1.3, 1.2, 1.3, 1.2,
      1.2, 1.3, 1.2, 1.3, 1.2, 1.3, 1.2, 1.3, 1.2, 1.3, 1.2, 1.3,
      1.3, 1.2, 1.3, 1.2, 1.3, 1.2, 1.3, 1.2, 1.3, 1.2, 1.3, 1.2,
      1.2, 1.3, 1.2, 1.3, 1.2, 1.3, 1.2, 1.3, 1.2, 1.3, 1.2, 1.3,
      1.3, 1.2, 1.3, 1.2, 1.3, 1.2, 1.3, 1.2, 1.3, 1.2, 1.3, 1.2,
      1.2, 1.3, 1.2, 1.9, 2.4, 2.5, 2.4, 1.5, 1.2, 1.3, 1.2, 1.3]
F5 = [9.8, 9.7, 9.9, 9.8, 9.7, 9.8, 9.9, 9.7, 9.8, 9.9, 9.8, 9.7,
      9.8, 9.9, 9.7, 9.8, 9.9, 9.8, 9.7, 9.8, 9.9, 9.7, 9.8, 9.9,
      9.6, 9.5, 9.7, 9.4, 9.6, 9.5, 9.8, 9.6, 9.5, 9.7, 9.6, 9.8,
      9.8, 9.9, 9.7, 9.8, 10.0, 9.9, 7.6, 7.5, 7.4, 7.6, 7.5, 7.4,
      7.5, 7.6, 7.4, 7.5, 7.6, 7.5, 7.4, 7.6, 7.5, 7.4, 7.5, 7.6,
      7.5, 7.4, 7.6, 7.5, 7.5, 7.4, 7.6, 7.5, 7.4, 7.5, 7.6, 7.5,
      7.4, 7.5, 7.6, 7.5, 7.4, 7.5, 7.6, 7.4, 7.5, 7.6, 7.5, 7.4,
      7.5, 7.6, 7.5, 8.5, 9.2, 9.4, 9.2, 8.2, 7.7, 7.5, 7.4, 7.5]

# ---------------- colours per season ----------------
WINTER_SHADES = ["#2b4a9e", "#3353b0", "#283f8f", "#3d5fc2", "#30479a", "#4a5db5", "#2a52a8", "#364ea0"]
HERBST_SHADES = ["#e8504a", "#f06258", "#e4463f", "#f2705f", "#ea5b55", "#f4785e", "#e85a48", "#ee6a62", "#e04c4c"]
SOMMER_SHADES = ["#f5a35c", "#f2c14e", "#f7b06a", "#f9984f", "#f0b45e", "#f5c46a"]
FRUEHLING_SHADES = ["#2aa862", "#34b46c", "#22a06a", "#3bb874", "#28a45c"]

GROUPS = [
    ("Frühling", [F1, F2, F3, F4, F5], FRUEHLING_SHADES),
    ("Sommer", [S1, S2, S3, S4, S5, S6], SOMMER_SHADES),
    ("Herbst", [H1, H2, H3, H4, H5, H6, H7, H8, H9, H10], HERBST_SHADES),
    ("Winter", [W1, W2, W3, W4, W5, W6, W7, W8, W9, W10, W11, W12, W13, W14, WB1, WB2, WB3], WINTER_SHADES),
]

fig = go.Figure()
for season, days, shades in GROUPS:
    for k, vals in enumerate(days):
        if len(vals) != len(TIME_SLOTS_H):
            print(f"warning: {season} day {k} has {len(vals)} values", file=sys.stderr)
        fig.add_trace(go.Scatter(
            x=TIME_SLOTS_H[:len(vals)], y=vals, mode="lines",
            line=dict(color=shades[k % len(shades)], width=1.4),
            opacity=0.95, showlegend=False, hoverinfo="skip"))

for name, col in zip(SEASONS, LEGEND_COLORS):
    fig.add_trace(go.Scatter(x=[None], y=[None], mode="markers", name=name, legendgroup=name,
                             marker=dict(color=col, size=16, symbol="circle")))

# title (cut off at the top edge, as in the reference)
fig.add_annotation(text="Leistung pro Uhrzeit für alle Tage nach Jahreszeit",
                   xref="paper", yref="paper", x=0.5, y=1.0, xanchor="center", yanchor="bottom",
                   yshift=4, showarrow=False, font=dict(size=20, color="#222", family="DejaVu Sans"))
# axis titles
fig.add_annotation(text="Uhrzeit", xref="paper", yref="paper", x=0.5, y=0.0,
                   xanchor="center", yanchor="middle", yshift=-84, showarrow=False,
                   font=dict(size=21, color="#222", family="DejaVu Sans"))
fig.add_annotation(text="Leistung (kW)", xref="paper", yref="paper", x=0.0, y=0.482,
                   xanchor="center", yanchor="middle", xshift=-74, textangle=-90, showarrow=False,
                   font=dict(size=21, color="#222", family="DejaVu Sans"))

fig.update_layout(
    width=1260, height=810,
    margin=dict(l=100, r=5, t=10, b=99),
    plot_bgcolor="white", paper_bgcolor="white",
    font=dict(family="DejaVu Sans", color="#333"),
    legend=dict(x=0.9957, y=0.988, xanchor="right", yanchor="top",
                bgcolor="rgba(255,255,255,0.95)", bordercolor="#cccccc", borderwidth=1,
                font=dict(size=16, color="#333"), itemsizing="trace", itemwidth=40,
                tracegroupgap=1),
)
fig.update_xaxes(
    range=[0, 23.55], tickmode="array", tickvals=TICK_POS, ticktext=TICK_LABELS,
    tickangle=-45, tickfont=dict(size=16, color="#333"),
    ticklabelshift=17, ticklabelstandoff=12,
    ticks="outside", ticklen=11, tickwidth=2, tickcolor="#222",
    showline=True, linecolor="#222", linewidth=1.5, mirror=True,
    showgrid=True, gridcolor="#d0d0d0", gridwidth=1, zeroline=False,
    minor=dict(tickmode="linear", tick0=0, dtick=0.25, ticks="outside", ticklen=5,
               tickwidth=1.2, tickcolor="#222", showgrid=True, gridcolor="#ececec", gridwidth=0.8),
)
fig.update_yaxes(
    range=[0, 130], tickmode="array", tickvals=Y_TICKS,
    tickfont=dict(size=16, color="#333"), ticklabelstandoff=5,
    ticks="outside", ticklen=13, tickwidth=2, tickcolor="#222",
    showline=True, linecolor="#222", linewidth=1.5, mirror=True,
    showgrid=True, gridcolor="#d0d0d0", gridwidth=1, zeroline=False,
    minor=dict(tickmode="linear", tick0=0, dtick=5, ticks="outside", ticklen=9,
               tickwidth=1.2, tickcolor="#222", showgrid=True, gridcolor="#ececec", gridwidth=0.8),
)

fig.write_html("out.html")
